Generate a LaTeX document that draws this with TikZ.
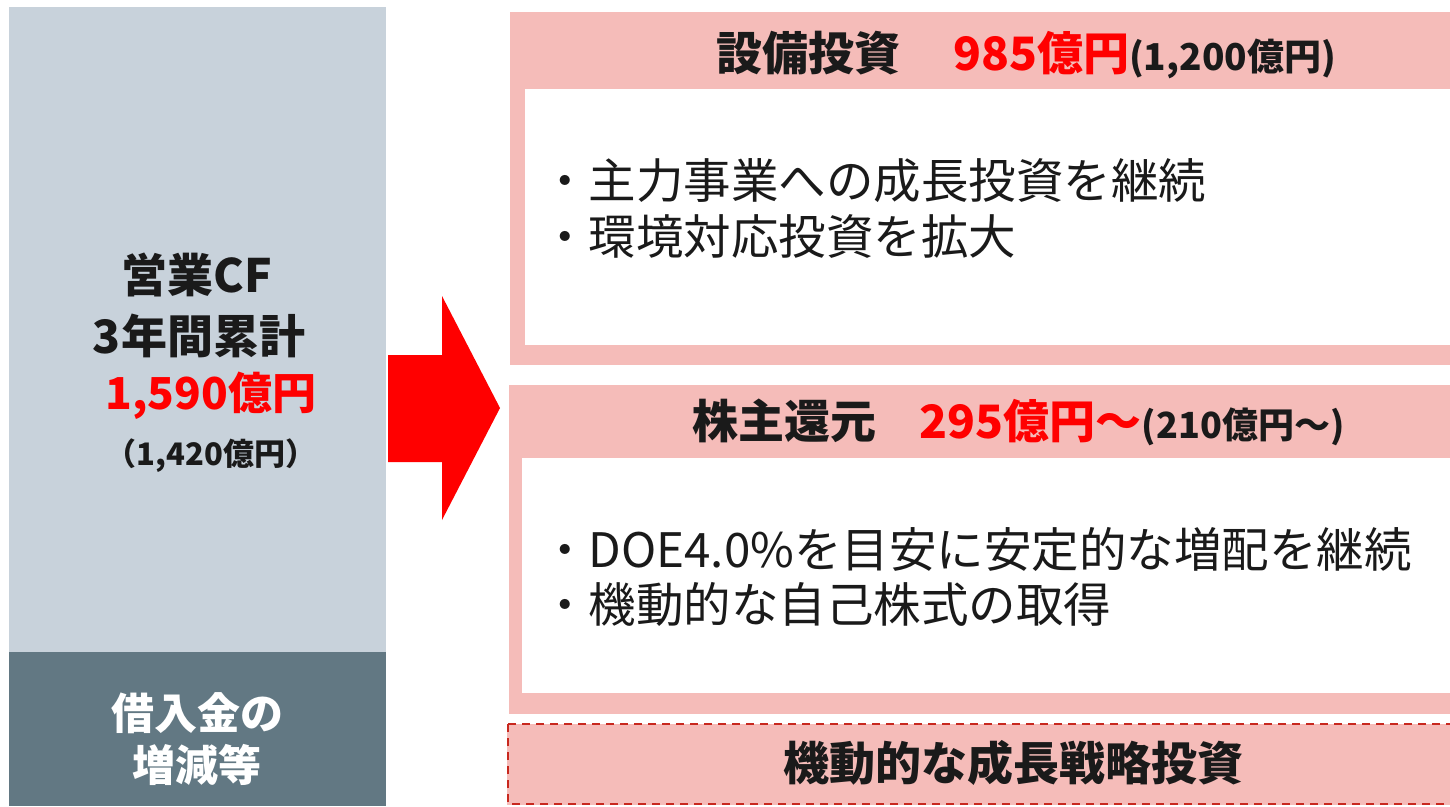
\documentclass[tikz,border=0pt]{standalone}
\usepackage{fontspec}
\setmainfont{Noto Sans CJK JP}
\newfontfamily\jp{Noto Sans CJK JP}
\definecolor{lgray}{HTML}{C8D2DB}
\definecolor{dgray}{HTML}{627883}
\definecolor{pinkbg}{HTML}{F5BCB9}
\definecolor{redtxt}{HTML}{FF0000}
\definecolor{dashred}{HTML}{C8281E}
\definecolor{ink}{HTML}{1A1A1A}
\begin{document}
\begin{tikzpicture}[x=1pt,y=-1pt,
  txt/.style={inner sep=0pt, text=ink, font=\jp\bfseries\fontsize{46}{50}\selectfont},
  body/.style={inner sep=0pt, anchor=west, text=ink, font=\jp\fontsize{47.5}{50}\selectfont},
  small/.style={font=\jp\bfseries\fontsize{31}{34}\selectfont}]
\useasboundingbox (0,0) rectangle (1450,806);
\fill[white] (0,0) rectangle (1450,806);
% left column
\fill[lgray] (9,7) rectangle (386,652);
\fill[dgray] (9,652) rectangle (386,806);
% arrow
\fill[redtxt] (388,355) -- (442,355) -- (442,296) -- (500,408) -- (442,520) -- (442,462) -- (388,462) -- cycle;
% box 1
\fill[pinkbg] (510,12) rectangle (1450,365);
\fill[white] (525,89) rectangle (1450,345);
% box 2
\fill[pinkbg] (509,385) rectangle (1450,714);
\fill[white] (522,458) rectangle (1450,693);
% dashed box
\fill[pinkbg] (507,724) rectangle (1452,805);
\draw[dashred, line width=2.2pt, dash pattern=on 8pt off 6pt] (508,724) -- (1452,724);
\draw[dashred, line width=2.2pt, dash pattern=on 8pt off 6pt] (508,724) -- (508,804) -- (1452,804);

% left texts
\node[txt] (cf) at (197,275) {営業CF};
\node[txt] (yr) at (199,336) {3年間累計};
\node[txt, text=redtxt, font=\jp\bfseries\fontsize{44}{50}\selectfont] (amt) at (211,396) {1,590億円};
\node[txt, small, text=ink] (prev) at (211,456) {（1,420億円）};
\node[txt, text=white, font=\jp\fontsize{43}{48}\selectfont\bfseries] (br1) at (197,713) {借入金の};
\node[txt, text=white, font=\jp\fontsize{43}{48}\selectfont\bfseries] (br2) at (197,765) {増減等};

% heading 1
\node[txt, anchor=west] (h1) at (716,55) {設備投資\hspace{1.15em}\textcolor{redtxt}{985億円}{\fontsize{37}{38}\selectfont(1,200億円)}};
\node[body] (b11) at (541,181) {・主力事業への成長投資を継続};
\node[body] (b12) at (541,237) {・環境対応投資を拡大};

% heading 2
\node[txt, anchor=west] (h2) at (692,422) {株主還元\hspace{0.95em}\textcolor{redtxt}{295億円～}{\fontsize{36}{38}\selectfont(210億円～)}};
\node[body] (b21) at (541,549) {・DOE4.0\%を目安に安定的な増配を継続};
\node[body] (b22) at (541,604) {・機動的な自己株式の取得};

% dashed box text
\node[txt] (grow) at (1013,763) {機動的な成長戦略投資};
\end{tikzpicture}
\end{document}
